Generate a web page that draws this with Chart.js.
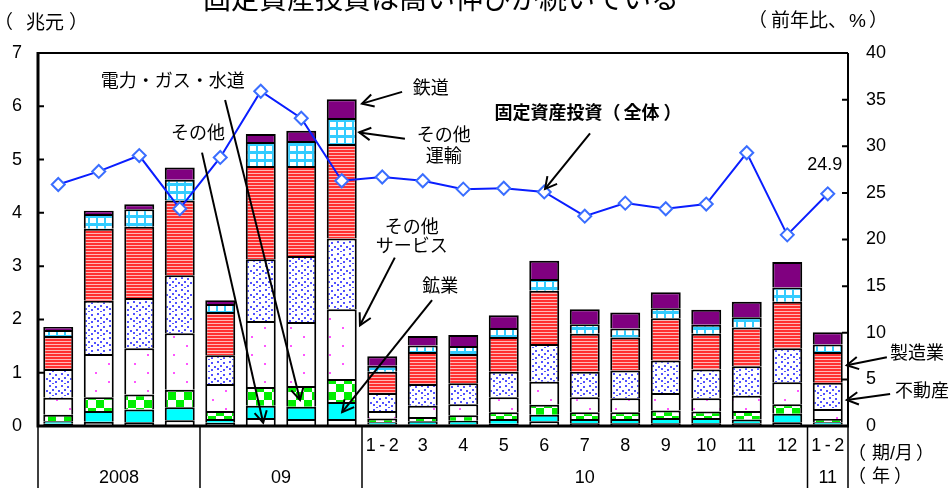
<!DOCTYPE html>
<html>
<head>
<meta charset="utf-8">
<script src="https://cdn.jsdelivr.net/npm/chart.js@4.4.1/dist/chart.umd.min.js"></script>
<style>
  html, body { margin: 0; padding: 0; background: #fff; }
  canvas { display: block; }
</style>
</head>
<body>
<canvas id="chart" width="951" height="488"></canvas>
<script>
// ── data (兆元, 前年比%) ──
const periods = ['Q1','Q2','Q3','Q4','Q1','Q2','Q3','Q4',
                 '1-2','3','4','5','6','7','8','9','10','11','12','1-2'];
const years     = ['2008', '09', '10', '11'];
const yearSpans = [4, 4, 11, 1];

const sonota   = [0.04,0.08,0.07,0.11,0.06,0.15,0.13,0.13,0.03,0.03,0.03,0.04,0.09,0.05,0.05,0.05,0.05,0.05,0.07,0.03];
const kogyo    = [0.05,0.20,0.24,0.24,0.07,0.23,0.23,0.32,0.04,0.06,0.07,0.09,0.12,0.08,0.08,0.10,0.10,0.07,0.16,0.04];
const denryoku = [0.12,0.26,0.28,0.33,0.15,0.35,0.39,0.43,0.07,0.08,0.10,0.13,0.19,0.13,0.13,0.14,0.12,0.16,0.18,0.06];
const service  = [0.32,0.81,0.87,1.06,0.51,1.24,1.20,1.31,0.14,0.21,0.21,0.28,0.43,0.28,0.26,0.33,0.25,0.29,0.41,0.19];
const fudosan  = [0.54,1.00,0.94,1.09,0.54,1.16,1.24,1.33,0.34,0.41,0.39,0.48,0.71,0.48,0.52,0.61,0.54,0.55,0.64,0.49];
const seizo    = [0.62,1.35,1.34,1.40,0.81,1.75,1.69,1.77,0.40,0.60,0.55,0.65,1.00,0.71,0.62,0.79,0.67,0.73,0.87,0.58];
const unyu     = [0.11,0.28,0.33,0.39,0.15,0.45,0.47,0.49,0.11,0.12,0.15,0.17,0.22,0.18,0.17,0.19,0.17,0.19,0.27,0.14];
const tetsudo  = [0.06,0.06,0.09,0.23,0.07,0.15,0.19,0.35,0.18,0.18,0.21,0.24,0.34,0.28,0.30,0.30,0.28,0.29,0.48,0.23];
const growth   = [25.9,27.3,29.0,23.3,28.8,35.9,33.0,26.3,26.7,26.3,25.4,25.5,25.1,22.5,23.9,23.3,23.8,29.3,20.5,24.9];

const FONT = '"Liberation Sans", Arial, "Noto Sans CJK JP", sans-serif';

// ── fill patterns ──
function pattern(w, h, draw) {
  const c = document.createElement('canvas');
  c.width = w; c.height = h;
  const g = c.getContext('2d');
  draw(g);
  return g.createPattern(c, 'repeat');
}
const pCtx = document.getElementById('chart').getContext('2d');
const fillRedStripe = pattern(4, 3, g => { g.fillStyle = '#ff3030'; g.fillRect(0,0,4,3); g.fillStyle = '#ffb8b8'; g.fillRect(0,2,4,1); });
const fillBlueDot = pattern(12, 12, g => {
  g.fillStyle = '#fff'; g.fillRect(0,0,12,12); g.fillStyle = '#5252ff';
  [[1,1],[7,2],[4,5],[10,6],[1,8],[7,9],[4,11]].forEach(([x,y]) => g.fillRect(x,y,2,2));
});
const fillPinkDot = pattern(26, 18, g => {
  g.fillStyle = '#fff'; g.fillRect(0,0,26,18); g.fillStyle = '#ff55ff';
  g.fillRect(4,3,2,2); g.fillRect(17,12,2,2);
});
const fillCheck = pattern(16, 16, g => {
  g.fillStyle = '#fff'; g.fillRect(0,0,16,16); g.fillStyle = '#00ee00';
  g.fillRect(0,0,8,8); g.fillRect(8,8,8,8);
});
const fillGrid = pattern(8, 8, g => {
  g.fillStyle = '#33ccff'; g.fillRect(0,0,8,8); g.fillStyle = '#fff'; g.fillRect(2,2,6,5);
});

const series = [
  ['その他', sonota, '#ffffff'],
  ['鉱業', kogyo, '#00ffff'],
  ['電力・ガス・水道', denryoku, fillCheck],
  ['その他サービス', service, fillPinkDot],
  ['不動産', fudosan, fillBlueDot],
  ['製造業', seizo, fillRedStripe],
  ['その他運輸', unyu, fillGrid],
  ['鉄道', tetsudo, '#800080'],
];

// ── annotations (category index, 兆元); numbers inside text arrays are gaps in px ──
const notes = [
  { t: ['電力・ガス・水道'], at: [2.83, 6.46] },
  { t: ['その他'], at: [3.45, 5.47] },
  { t: ['鉄道'], at: [9.20, 6.33] },
  { t: ['その他'], at: [9.52, 5.45] },
  { t: ['運輸'], at: [9.52, 5.04] },
  { t: ['固定資産投資', '（', 3, '全体', 4, '）'], at: [13.08, 5.86], bold: true },
  { t: ['その他'], at: [8.73, 3.71] },
  { t: ['サービス'], at: [8.73, 3.35] },
  { t: ['鉱業'], at: [9.43, 2.60] },
  { t: ['製造業'], at: [20.54, 1.35], left: true },
  { t: ['不動産'], at: [20.66, 0.64], left: true },
];
const arrows = [
  [[8.49, 6.27], [7.50, 6.05]],
  [[8.56, 5.39], [7.43, 5.51]],
  [[13.13, 5.49], [12.02, 4.45]],
  [[8.31, 3.16], [7.45, 1.89]],
  [[9.23, 2.36], [7.01, 0.26]],
  [[4.12, 6.12], [5.97, 0.49]],
  [[3.55, 5.13], [5.06, 0.06]],
  [[20.46, 1.29], [19.47, 1.14]],
  [[20.54, 0.60], [19.47, 0.49]],
];

function runWidth(ctx, parts) {
  return parts.reduce((w, p) => w + (typeof p === 'number' ? p : ctx.measureText(p).width), 0);
}
function run(ctx, parts, x, y) {
  parts.forEach(p => {
    if (typeof p === 'number') { x += p; return; }
    ctx.fillText(p, x, y); x += ctx.measureText(p).width;
  });
}

function arrow(ctx, x1, y1, x2, y2) {
  ctx.beginPath(); ctx.moveTo(x1, y1); ctx.lineTo(x2, y2); ctx.stroke();
  const a = Math.atan2(y2 - y1, x2 - x1), L = 13, w = 0.5;
  ctx.beginPath();
  ctx.moveTo(x2 - L * Math.cos(a - w), y2 - L * Math.sin(a - w));
  ctx.lineTo(x2, y2);
  ctx.lineTo(x2 - L * Math.cos(a + w), y2 - L * Math.sin(a + w));
  ctx.stroke();
}

const deco = {
  id: 'deco',
  afterDraw(chart) {
    const { ctx, chartArea: a, scales: { x, y, y2 } } = chart;
    const P = (i, v) => [x.getPixelForValue(i), y.getPixelForValue(v)];
    ctx.save();
    ctx.strokeStyle = '#000'; ctx.fillStyle = '#000';

    // frame
    ctx.lineWidth = 2;
    ctx.beginPath();
    ctx.moveTo(a.left, a.top); ctx.lineTo(a.right, a.top);
    ctx.moveTo(a.right, a.top); ctx.lineTo(a.right, a.bottom);
    ctx.stroke();
    ctx.lineWidth = 3;
    ctx.beginPath();
    ctx.moveTo(a.left, a.top - 1); ctx.lineTo(a.left, a.bottom);
    ctx.lineTo(a.right + 1, a.bottom);
    ctx.stroke();
    ctx.lineWidth = 2;
    ctx.beginPath();
    for (let v = 1; v < 7; v++) { const py = y.getPixelForValue(v); ctx.moveTo(a.left, py); ctx.lineTo(a.left + 6, py); }
    for (let v = 5; v < 40; v += 5) { const py = y2.getPixelForValue(v); ctx.moveTo(a.right, py); ctx.lineTo(a.right - 6, py); }
    ctx.stroke();

    // period table below axis
    ctx.lineWidth = 1.5;
    ctx.beginPath();
    let idx = 0;
    const bounds = [0];
    yearSpans.forEach(s => { idx += s; bounds.push(idx); });
    bounds.forEach(b => { const px = x.getPixelForValue(b - 0.5); ctx.moveTo(px, a.bottom); ctx.lineTo(px, 488); });
    ctx.stroke();
    ctx.font = '18px ' + FONT;
    ctx.textAlign = 'center'; ctx.textBaseline = 'middle';
    years.forEach((t, k) => {
      const mid = (bounds[k] + bounds[k + 1] - 1) / 2;
      ctx.fillText(t, x.getPixelForValue(mid), 478);
    });
    ctx.textAlign = 'left';
    run(ctx, ['（', 6, '期/月', 3, '）'], a.right, 454);
    run(ctx, ['（', 6, '年', 4, '）'], a.right, 477);

    // unit labels & title
    ctx.font = '19px ' + FONT;
    run(ctx, ['（', 13, '兆元', 5, '）'], -6, 24);
    run(ctx, ['（', 4, '前年比、', 2, '%', 3, '）'], 748, 22);
    ctx.font = '28px ' + FONT;
    ctx.textAlign = 'center'; ctx.textBaseline = 'alphabetic';
    ctx.fillText('固定資産投資は高い伸びが続いている', 441, 9);

    // notes & arrows
    ctx.textBaseline = 'middle';
    ctx.textAlign = 'left';
    notes.forEach(n => {
      ctx.font = (n.bold ? 'bold ' : '') + '18px ' + FONT;
      const [px, py] = P(...n.at);
      const w = runWidth(ctx, n.t);
      run(ctx, n.t, n.left ? px : px - w / 2, py);
    });
    ctx.lineWidth = 2;
    arrows.forEach(([f, t]) => { const [x1, y1] = P(...f); const [x2, y2p] = P(...t); arrow(ctx, x1, y1, x2, y2p); });

    // last value label
    const last = chart.getDatasetMeta(series.length).data[growth.length - 1];
    ctx.font = '18px ' + FONT;
    ctx.textAlign = 'center';
    ctx.fillText(String(growth[growth.length - 1]), last.x - 3, last.y - 29);
    ctx.restore();
  }
};

const datasets = series.map(([label, data, fill]) => ({
  type: 'bar', label, data, backgroundColor: fill,
  borderColor: '#000', borderWidth: 2,
  barPercentage: 0.74, categoryPercentage: 1, order: 1, yAxisID: 'y'
}));
datasets.push({
  type: 'line', label: '固定資産投資（全体）', data: growth, yAxisID: 'y2', order: 0,
  borderColor: '#0a1eff', borderWidth: 2, tension: 0,
  pointStyle: 'rectRot', pointRadius: 6.5, pointBorderWidth: 2,
  pointBackgroundColor: '#fff', pointBorderColor: '#3a6eff'
});

new Chart(pCtx, {
  data: { labels: periods, datasets },
  options: {
    responsive: false, animation: false, devicePixelRatio: 1,
    layout: { padding: { top: 53, left: 0, right: 0, bottom: 0 } },
    plugins: { legend: { display: false }, tooltip: { enabled: false } },
    scales: {
      x: {
        stacked: true,
        grid: { display: false, drawTicks: false }, border: { display: false },
        ticks: {
          autoSkip: false, maxRotation: 0, padding: 9, color: '#000', font: { size: 18, family: FONT },
          callback(v, i) { const l = periods[i]; return l.startsWith('Q') ? '' : l.replace('-', '\u2009-\u2009'); }
        },
        afterFit(s) { s.height = 62; }
      },
      y: {
        position: 'left', stacked: true, min: 0, max: 7,
        grid: { display: false, drawTicks: false }, border: { display: false },
        ticks: { stepSize: 1, padding: 16, color: '#000', font: { size: 18, family: FONT } },
        afterFit(s) { s.width = 38; }
      },
      y2: {
        position: 'right', min: 0, max: 40,
        grid: { display: false, drawTicks: false }, border: { display: false },
        ticks: { stepSize: 5, padding: 18, color: '#000', font: { size: 18, family: FONT } },
        afterFit(s) { s.width = 103; }
      }
    }
  },
  plugins: [deco]
});
</script>
</body>
</html>
